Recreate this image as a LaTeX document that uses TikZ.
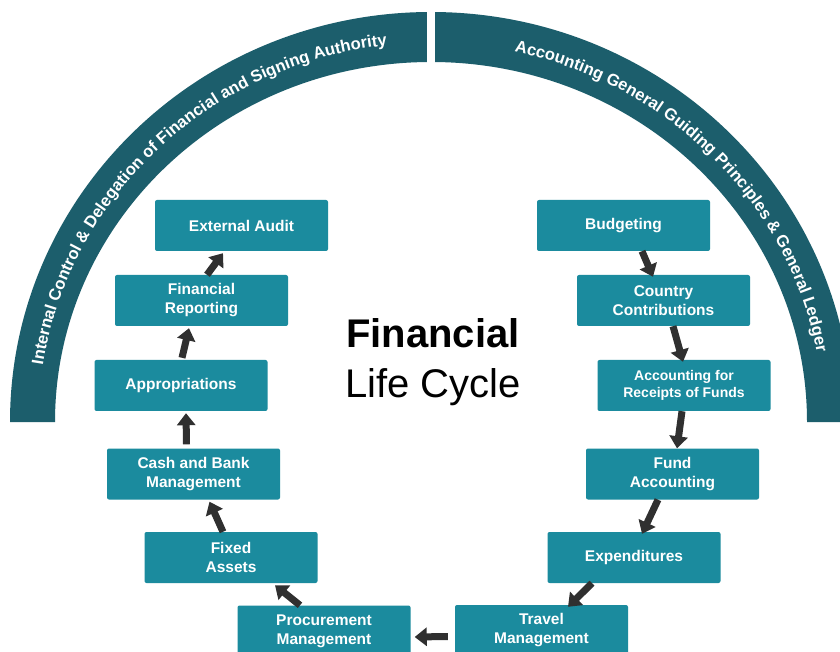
\documentclass[tikz,border=0pt]{standalone}
\usepackage{fontspec}
\setmainfont{Liberation Sans}
\usetikzlibrary{arrows.meta,calc,decorations.text}
\definecolor{boxc}{RGB}{27,139,158}
\definecolor{arcc}{RGB}{28,94,108}
\definecolor{arrowc}{RGB}{48,48,48}
\newcommand{\arcfont}{\bfseries\fontsize{16.6}{19}\selectfont\color{white}}
\tikzset{
  stepbox/.style={fill=boxc, rounded corners=2pt, minimum width=173pt, minimum height=51pt,
    text=white, font=\bfseries\fontsize{15.5}{19}\selectfont, align=center, inner sep=0pt},
  smallbox/.style={stepbox, font=\bfseries\fontsize{14}{17}\selectfont},
  flow/.style={draw=arrowc, line width=7pt, -{Triangle[width=18pt,length=12pt]}},
  arcband/.style={fill=arcc}
}
\begin{document}
\begin{tikzpicture}[x=1pt,y=1pt]
\useasboundingbox (0,0) rectangle (840,651);
\clip (0,0) rectangle (840,651);
\fill[white] (0,0) rectangle (840,651);
\coordinate (c) at (431,229);
% arc bands
\fill[arcband] (10,229) arc[start angle=180, end angle=90, x radius=421pt, y radius=410pt]
  -- (431,589) arc[start angle=90, end angle=180, x radius=376pt, y radius=360pt] -- cycle;
\fill[arcband] (431,639) arc[start angle=90, end angle=0, x radius=421pt, y radius=410pt]
  -- (807,229) arc[start angle=0, end angle=90, x radius=376pt, y radius=360pt] -- cycle;
\fill[white] (427,560) rectangle (434.5,651);
% arc texts
\path[decorate, decoration={text along path, text align=center,
  text={|\arcfont|Internal Control {\&} Delegation of Financial and Signing Authority}}]
  ($(c)+(176:392.5pt and 379pt)$) arc[start angle=176, end angle=92, x radius=392.5pt, y radius=379pt];
\path[decorate, decoration={text along path, text align=center,
  text={|\arcfont|Accounting General Guiding Principles {\&} General Ledger}}]
  ($(c)+(88:392.5pt and 379pt)$) arc[start angle=88, end angle=0, x radius=392.5pt, y radius=379pt];
% title
\node[anchor=base, font=\bfseries\fontsize{40}{48}\selectfont] (t1) at (433,303) {Financial};
\node[anchor=base, font=\fontsize{40}{48}\selectfont] (t2) at (433,253) {Life Cycle};
% boxes
\node[stepbox] (ea) at (241.5,425.5) {External Audit};
\node[stepbox] (fr) at (201.5,350.5) {Financial\\Reporting};
\node[stepbox] (app) at (181,265.5) {Appropriations};
\node[stepbox] (cash) at (193.5,177) {Cash and Bank\\Management};
\node[stepbox] (fixed) at (231,93.5) {Fixed\\Assets};
\node[stepbox] (proc) at (324,20) {Procurement\\Management};
\node[stepbox] (bud) at (623.5,425.5) {Budgeting};
\node[stepbox] (cc) at (663.5,350.5) {Country\\Contributions};
\node[smallbox] (acc) at (684,265.5) {Accounting for\\Receipts of Funds};
\node[stepbox] (fund) at (672.5,177) {Fund\\Accounting};
\node[stepbox] (exp) at (634,93.5) {Expenditures};
\node[stepbox] (tr) at (541.5,20.5) {Travel\\Management};
% arrows
\draw[flow] ([xshift=18.5pt]bud.south) -- ([xshift=-10.5pt,yshift=-2pt]cc.north);
\draw[flow] ([xshift=9.5pt]cc.south) -- ([xshift=-1pt,yshift=-2pt]acc.north);
\draw[flow] ([xshift=-2pt]acc.south) -- ([xshift=4.5pt]fund.north);
\draw[flow] ([xshift=-14.5pt]fund.south) -- ([xshift=8pt,yshift=-2pt]exp.north);
\draw[flow] ([xshift=-42pt]exp.south) -- ([xshift=26.5pt,yshift=-2pt]tr.north);
\draw[flow] ([xshift=-7pt,yshift=-6pt]tr.west) -- ([xshift=4pt,yshift=-6pt]proc.east);
\draw[flow] ([xshift=-24pt]proc.north) -- ([xshift=44pt,yshift=-2pt]fixed.south);
\draw[flow] ([xshift=-8pt]fixed.north) -- ([xshift=16pt,yshift=-2pt]cash.south);
\draw[flow] ([xshift=-7pt,yshift=4pt]cash.north) -- ([xshift=5pt,yshift=-2pt]app.south);
\draw[flow] ([xshift=1pt,yshift=2pt]app.north) -- ([xshift=-12.5pt,yshift=-2pt]fr.south);
\draw[flow] ([xshift=5.5pt]fr.north) -- ([xshift=-18.5pt,yshift=-2pt]ea.south);
\end{tikzpicture}
\end{document}
